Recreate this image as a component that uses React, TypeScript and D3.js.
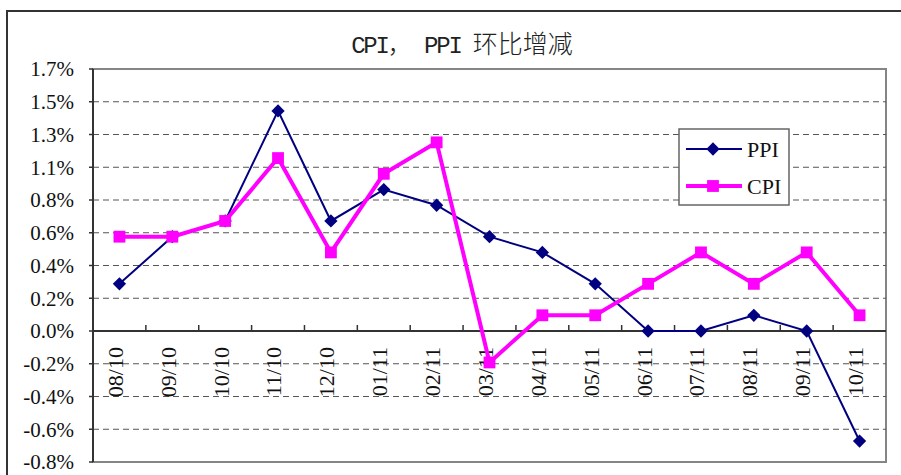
import React from "react";
import * as d3 from "d3";

// months on the x axis
const months = [
  "08/10", "09/10", "10/10", "11/10", "12/10", "01/11", "02/11", "03/11",
  "04/11", "05/11", "06/11", "07/11", "08/11", "09/11", "10/11",
];

// month-on-month change, %
const ppi = [0.3, 0.6, 0.7, 1.4, 0.7, 0.9, 0.8, 0.6, 0.5, 0.3, 0.0, 0.0, 0.1, 0.0, -0.7];
const cpi = [0.6, 0.6, 0.7, 1.1, 0.5, 1.0, 1.2, -0.2, 0.1, 0.1, 0.3, 0.5, 0.3, 0.5, 0.1];

// y axis labels as printed on the chart (bottom to top)
const yLabels = [
  "-0.8%", "-0.6%", "-0.4%", "-0.2%", "0.0%", "0.2%", "0.4%",
  "0.6%", "0.8%", "1.1%", "1.3%", "1.5%", "1.7%",
];
const yMin = -0.8333;
const yMax = 1.6667;

const W = 901;
const H = 475;
const plot = { left: 93, top: 69, right: 886, bottom: 462 };

const serif = "'Liberation Serif', 'Times New Roman', serif";
const mono = "'Liberation Mono', monospace";

export default function App() {
  const x = d3.scaleBand<string>().domain(months).range([plot.left, plot.right]);
  const cx = (m: string) => (x(m) as number) + x.bandwidth() / 2;
  const y = d3.scaleLinear().domain([yMin, yMax]).range([plot.bottom, plot.top]);
  const step = (yMax - yMin) / (yLabels.length - 1);
  const ticks = yLabels.map((_, i) => yMin + i * step);

  const line = d3
    .line<number>()
    .x((_, i) => cx(months[i]))
    .y((d) => y(d));

  // square turned 45 degrees for the PPI marker
  const diamond = d3.symbol().type(d3.symbolSquare).size(88)();
  const square = d3.symbol().type(d3.symbolSquare).size(140)();

  const legendX = 679;
  const legendY = 129;

  return (
    <svg
      width={W}
      height={H}
      style={{ position: "absolute", left: 0, top: 0, background: "#fff" }}
    >
      {/* chart area frame, runs past the right and bottom edges */}
      <rect x={7} y={11} width={1000} height={600} fill="#fff" stroke="#333" strokeWidth={2} />

      {/* title */}
      <text x={462} y={53} textAnchor="middle" fill="#222">
        <tspan fontFamily={mono} fontSize={24} letterSpacing={-2.2}>CPI</tspan>
        <tspan fontFamily="'Noto Sans CJK SC'" fontSize={24} fontWeight={300}>，</tspan>
        <tspan fontFamily={mono} fontSize={24} letterSpacing={-2.2}> PPI </tspan>
        <tspan fontFamily="'Noto Sans CJK SC'" fontSize={25} fontWeight={300}>环比增减</tspan>
      </text>

      {/* plot area border */}
      <rect
        x={plot.left}
        y={plot.top}
        width={plot.right - plot.left}
        height={plot.bottom - plot.top}
        fill="none"
        stroke="#858585"
        strokeWidth={2}
      />

      {/* dashed gridlines */}
      {ticks.slice(1, -1).map((t, i) =>
        Math.abs(t) < 1e-6 ? null : (
          <line
            key={"g" + i}
            x1={plot.left}
            x2={plot.right}
            y1={y(t)}
            y2={y(t)}
            stroke="#555"
            strokeWidth={1}
            strokeDasharray="6,4"
          />
        )
      )}

      {/* y axis */}
      <line x1={plot.left} x2={plot.left} y1={plot.top} y2={plot.bottom} stroke="#333" strokeWidth={2} />
      {ticks.map((t, i) => (
        <g key={"y" + i}>
          <line x1={plot.left - 4} x2={plot.left} y1={y(t)} y2={y(t)} stroke="#333" strokeWidth={1.5} />
          <text
            x={74}
            y={y(t)}
            dy="0.35em"
            textAnchor="end"
            fontFamily={serif}
            fontSize={21}
            fill="#111"
          >
            {yLabels[i]}
          </text>
        </g>
      ))}

      {/* x axis at zero */}
      <line x1={plot.left} x2={plot.right} y1={y(0)} y2={y(0)} stroke="#333" strokeWidth={2} />
      {months.slice(1).map((m) => (
        <line key={"t" + m} x1={x(m)} x2={x(m)} y1={y(0) - 6} y2={y(0)} stroke="#333" strokeWidth={1.5} />
      ))}
      {months.map((m) => (
        <text
          key={"x" + m}
          transform={`translate(${cx(m) - 1},347) rotate(-90)`}
          dy="0.2em"
          textAnchor="end"
          fontFamily={serif}
          fontSize={22}
          fill="#111"
        >
          {m}
        </text>
      ))}

      {/* PPI */}
      <path d={line(ppi) ?? ""} fill="none" stroke="#000080" strokeWidth={2} />
      {ppi.map((v, i) => (
        <path
          key={"p" + i}
          d={diamond ?? ""}
          transform={`translate(${cx(months[i])},${y(v)}) rotate(45)`}
          fill="#000080"
        />
      ))}

      {/* CPI */}
      <path d={line(cpi) ?? ""} fill="none" stroke="#ff00ff" strokeWidth={4} />
      {cpi.map((v, i) => (
        <path key={"c" + i} d={square ?? ""} transform={`translate(${cx(months[i])},${y(v)})`} fill="#ff00ff" />
      ))}

      {/* legend */}
      <rect x={legendX} y={legendY} width={110} height={76} fill="#fff" stroke="#666" strokeWidth={1.5} />
      <line x1={legendX + 7} x2={legendX + 63} y1={legendY + 20} y2={legendY + 20} stroke="#000080" strokeWidth={2} />
      <path d={diamond ?? ""} transform={`translate(${legendX + 34},${legendY + 20}) rotate(45)`} fill="#000080" />
      <text x={legendX + 68} y={legendY + 20} dy="0.35em" fontFamily={serif} fontSize={22} fill="#111">
        PPI
      </text>
      <line x1={legendX + 7} x2={legendX + 63} y1={legendY + 57} y2={legendY + 57} stroke="#ff00ff" strokeWidth={4} />
      <path d={square ?? ""} transform={`translate(${legendX + 34},${legendY + 57})`} fill="#ff00ff" />
      <text x={legendX + 68} y={legendY + 57} dy="0.35em" fontFamily={serif} fontSize={22} fill="#111">
        CPI
      </text>
    </svg>
  );
}
